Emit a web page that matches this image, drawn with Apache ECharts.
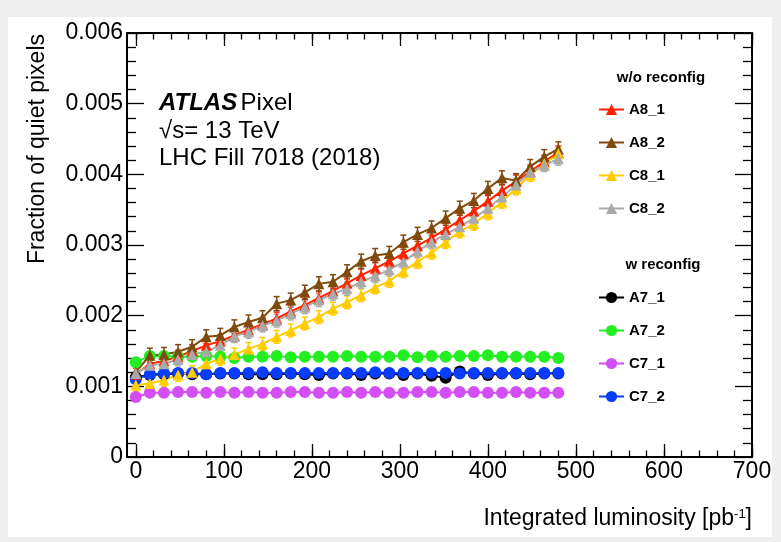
<!DOCTYPE html>
<html><head><meta charset="utf-8">
<script src="https://cdn.jsdelivr.net/npm/echarts@6/dist/echarts.min.js"></script>
<style>
html,body{margin:0;padding:0;background:#efefef;}
#wrap{position:relative;width:781px;height:542px;background:#efefef;overflow:hidden;}
#panel{position:absolute;left:8px;top:17px;width:764px;height:520px;background:#fff;}
#chart{position:absolute;left:0;top:0;width:781px;height:542px;}
</style></head><body>
<div id="wrap"><div id="panel"></div><div id="chart"></div></div>
<script>
// Integrated luminosity [pb^-1]
const lumi = [0,16,32,48,64,80,96,112,128,144,160,176,192,208,224,240,256,272,288,304,320,336,352,368,384,400,416,432,448,464,480];
// Fraction of quiet pixels, in units of 1e-3
const A8_1 = [1.17,1.32,1.36,1.42,1.50,1.58,1.64,1.72,1.80,1.88,1.96,2.06,2.15,2.25,2.35,2.46,2.57,2.67,2.77,2.88,2.99,3.10,3.22,3.35,3.48,3.62,3.77,3.90,4.04,4.18,4.31];
const A8_2 = [1.20,1.44,1.45,1.49,1.56,1.70,1.72,1.84,1.91,1.97,2.17,2.22,2.33,2.45,2.48,2.62,2.77,2.85,2.88,3.04,3.15,3.24,3.38,3.52,3.63,3.80,3.95,3.91,4.11,4.25,4.36];
const C8_1 = [1.02,1.04,1.09,1.16,1.20,1.32,1.39,1.45,1.53,1.60,1.70,1.79,1.89,1.98,2.10,2.19,2.29,2.40,2.49,2.63,2.76,2.89,3.04,3.19,3.30,3.45,3.61,3.80,3.99,4.15,4.29];
const C8_2 = [1.18,1.30,1.32,1.38,1.45,1.49,1.58,1.71,1.77,1.86,1.93,2.03,2.12,2.22,2.31,2.38,2.48,2.56,2.65,2.76,2.91,3.04,3.15,3.26,3.38,3.52,3.68,3.85,4.03,4.13,4.22];
const A7_1 = [1.13,1.16,1.17,1.18,1.17,1.17,1.18,1.18,1.17,1.17,1.17,1.18,1.17,1.16,1.18,1.18,1.16,1.18,1.18,1.16,1.18,1.15,1.12,1.21,1.18,1.16,1.18,1.18,1.17,1.18,1.18];
const A7_2 = [1.34,1.43,1.43,1.42,1.42,1.43,1.42,1.40,1.42,1.42,1.43,1.41,1.42,1.42,1.42,1.43,1.42,1.42,1.42,1.44,1.41,1.43,1.42,1.43,1.43,1.44,1.42,1.42,1.42,1.42,1.40];
const C7_1 = [0.85,0.91,0.91,0.92,0.92,0.91,0.92,0.91,0.92,0.91,0.91,0.92,0.92,0.91,0.91,0.92,0.91,0.92,0.91,0.91,0.92,0.92,0.91,0.92,0.92,0.91,0.91,0.92,0.91,0.91,0.91];
const C7_2 = [1.10,1.17,1.18,1.19,1.19,1.17,1.19,1.19,1.19,1.20,1.19,1.19,1.19,1.19,1.19,1.19,1.19,1.20,1.19,1.19,1.19,1.19,1.19,1.18,1.19,1.19,1.19,1.19,1.19,1.19,1.19];
// statistical uncertainty (1e-3 units) of the rising series
const errA8_1 = 0.09, errA8_2 = 0.10, errC8_1 = 0.09, errC8_2 = 0.09;
// tick labels
const xTickValues = [0,100,200,300,400,500,600,700];
const xTickLabels = ['0','100','200','300','400','500','600','700'];
const yTickLabels = ['0','0.001','0.002','0.003','0.004','0.005','0.006'];
const legendOff = ['A8_1','A8_2','C8_1','C8_2'];
const legendOn = ['A7_1','A7_2','C7_1','C7_2'];

const FONT = '"Liberation Sans", Arial, Helvetica, sans-serif';
const xMinor = [];
for (let v = 0; v <= 700; v += 20) xMinor.push(v);

function xAx(pos, ticks, len, withLabels, withLine) {
  return {
    type: 'value', position: pos, min: -10, max: 700,
    axisLine: {show: withLine, onZero: false, lineStyle: {color: '#000', width: 2}},
    axisTick: {show: true, inside: true, length: len, customValues: ticks, lineStyle: {color: '#000', width: 1.3}},
    axisLabel: withLabels ? {
      show: true, customValues: xTickValues, margin: 3,
      formatter: v => xTickLabels[xTickValues.indexOf(Math.round(v))],
      fontSize: 23, color: '#000', fontFamily: FONT
    } : {show: false},
    splitLine: {show: false}
  };
}
function yAx(pos, withLabels) {
  return {
    type: 'value', position: pos, min: 0, max: 6, interval: 1,
    axisLine: {show: true, onZero: false, lineStyle: {color: '#000', width: 2}},
    axisTick: {show: true, inside: true, length: 17, lineStyle: {color: '#000', width: 1.3}},
    minorTick: {show: true, splitNumber: 5, length: 9, lineStyle: {color: '#000', width: 1.3}},
    axisLabel: withLabels ? {
      show: true, margin: 4, formatter: v => yTickLabels[Math.round(v)],
      fontSize: 23, color: '#000', fontFamily: FONT
    } : {show: false},
    splitLine: {show: false}, minorSplitLine: {show: false}
  };
}
function lineS(name, vals, color, symbol, size) {
  return {
    type: 'line', name: name, data: lumi.map((x, i) => [x, vals[i]]),
    symbol: symbol, symbolSize: size, showSymbol: true,
    lineStyle: {color: color, width: 2}, itemStyle: {color: color, borderWidth: 0},
    emphasis: {disabled: true}, animation: false, z: 3
  };
}
function errS(name, vals, err, color) {
  return {
    type: 'custom', name: name + ' err', silent: true, animation: false, z: 3,
    data: lumi.map((x, i) => [x, vals[i], err]),
    encode: {x: 0, y: 1},
    renderItem: (params, api) => {
      const x = api.value(0), y = api.value(1), e = api.value(2);
      const t = api.coord([x, y + e]), b = api.coord([x, y - e]);
      const w = 3, st = {stroke: color, lineWidth: 1.5};
      return {type: 'group', children: [
        {type: 'line', shape: {x1: t[0], y1: t[1], x2: b[0], y2: b[1]}, style: st},
        {type: 'line', shape: {x1: t[0] - w, y1: t[1], x2: t[0] + w, y2: t[1]}, style: st},
        {type: 'line', shape: {x1: b[0] - w, y1: b[1], x2: b[0] + w, y2: b[1]}, style: st}
      ]};
    }
  };
}
const COL = {A8_1: '#ff2200', A8_2: '#7f4a0c', C8_1: '#ffcc00', C8_2: '#aaaaaa',
             A7_1: '#000000', A7_2: '#22ee22', C7_1: '#d44ef5', C7_2: '#0a3cff'};

const legText = {fontWeight: 'bold', fontSize: 15, color: '#000', fontFamily: FONT};
const option = {
  animation: false,
  grid: {left: 127, right: 29, top: 33, bottom: 85, containLabel: false},
  xAxis: [xAx('bottom', xTickValues, 13, true, true), xAx('bottom', xMinor, 6.5, false, false),
          xAx('top', xTickValues, 13, false, true), xAx('top', xMinor, 6.5, false, false)],
  yAxis: [yAx('left', true), yAx('right', false)],
  legend: [
    {data: legendOff, orient: 'vertical', left: 598, top: 102, padding: 0, itemWidth: 25, itemHeight: 14, itemGap: 18, textStyle: legText, selectedMode: false},
    {data: legendOn, orient: 'vertical', left: 598, top: 290, padding: 0, itemWidth: 25, itemHeight: 14, itemGap: 18, textStyle: legText, selectedMode: false}
  ],
  graphic: [
    {type: 'text', x: 661, y: 78, style: {text: 'w/o reconfig', fontSize: 15, fontWeight: 'bold', fontFamily: FONT, fill: '#000', textAlign: 'center', textVerticalAlign: 'middle'}},
    {type: 'text', x: 663, y: 265, style: {text: 'w reconfig', fontSize: 15, fontWeight: 'bold', fontFamily: FONT, fill: '#000', textAlign: 'center', textVerticalAlign: 'middle'}},
    {type: 'text', x: 159, y: 103, style: {text: '{a|ATLAS} {b|Pixel}', textVerticalAlign: 'middle',
      rich: {a: {fontSize: 24, fontWeight: 'bold', fontStyle: 'italic', fontFamily: FONT, fill: '#000'},
             b: {fontSize: 24, fontFamily: FONT, fill: '#000'}}}},
    {type: 'text', x: 159, y: 131, style: {text: '√s= 13 TeV', fontSize: 24, fontFamily: FONT, fill: '#000', textVerticalAlign: 'middle'}},
    {type: 'text', x: 159, y: 158, style: {text: 'LHC Fill 7018 (2018)', fontSize: 24, fontFamily: FONT, fill: '#000', textVerticalAlign: 'middle'}},
    {type: 'text', x: 38, y: 34, rotation: Math.PI / 2, style: {text: 'Fraction of quiet pixels', fontSize: 23, fontFamily: FONT, fill: '#000', textAlign: 'right', textVerticalAlign: 'middle'}},
    {type: 'text', x: 752, y: 519, style: {text: '{n|Integrated luminosity [pb}{s|-1}{n|]}', textAlign: 'right', textVerticalAlign: 'middle',
      rich: {n: {fontSize: 23, fontFamily: FONT, fill: '#000'}, s: {fontSize: 13, fontFamily: FONT, fill: '#000', verticalAlign: 'top'}}}}
  ],
  series: [
    lineS('A7_1', A7_1, COL.A7_1, 'circle', 12),
    lineS('A7_2', A7_2, COL.A7_2, 'circle', 12),
    lineS('C7_1', C7_1, COL.C7_1, 'circle', 12),
    lineS('C7_2', C7_2, COL.C7_2, 'circle', 12),
    errS('A8_1', A8_1, errA8_1, COL.A8_1), lineS('A8_1', A8_1, COL.A8_1, 'triangle', 11),
    errS('A8_2', A8_2, errA8_2, COL.A8_2), lineS('A8_2', A8_2, COL.A8_2, 'triangle', 11),
    errS('C8_1', C8_1, errC8_1, COL.C8_1), lineS('C8_1', C8_1, COL.C8_1, 'triangle', 11),
    errS('C8_2', C8_2, errC8_2, COL.C8_2), lineS('C8_2', C8_2, COL.C8_2, 'triangle', 11)
  ]
};
const chart = echarts.init(document.getElementById('chart'), null, {renderer: 'canvas'});
chart.setOption(option);
</script>
</body></html>
